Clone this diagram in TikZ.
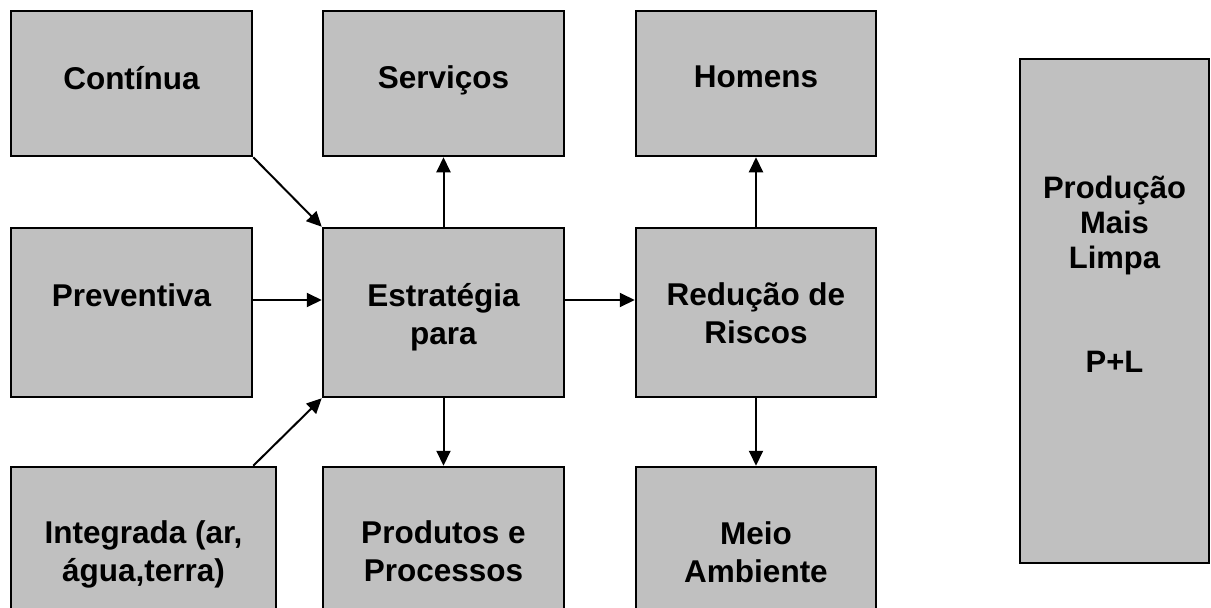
\documentclass[tikz,border=0pt]{standalone}
\usepackage{fontspec}
\setmainfont{Liberation Sans}
\usetikzlibrary{calc,arrows.meta}
\definecolor{boxgray}{RGB}{192,192,192}

\begin{document}
\begin{tikzpicture}[x=1pt,y=-1pt,
  caixa/.style={draw=black,line width=2.5pt,fill=boxgray,inner sep=0pt},
  texto/.style={anchor=north,inner sep=0pt,align=center,
    font=\bfseries\fontsize{31.5}{38}\selectfont},
  seta/.style={line width=2pt,-{Triangle[length=15pt,width=14pt]}}]
\useasboundingbox (0,0) rectangle (1211,608);
\clip (0,0) rectangle (1211,608);

\node[caixa,minimum width=241pt,minimum height=145pt] (cont) at (131.5,83.5) {};
\node[caixa,minimum width=241pt,minimum height=145pt] (serv) at (443.5,83.5) {};
\node[caixa,minimum width=240pt,minimum height=145pt] (hom) at (756,83.5) {};

\node[caixa,minimum width=241pt,minimum height=169pt] (prev) at (131.5,312.5) {};
\node[caixa,minimum width=241pt,minimum height=169pt] (estr) at (443.5,312.5) {};
\node[caixa,minimum width=240pt,minimum height=169pt] (red) at (756,312.5) {};

\node[caixa,minimum width=265pt,minimum height=172pt] (integ) at (143.5,553) {};
\node[caixa,minimum width=241pt,minimum height=172pt] (prod) at (443.5,553) {};
\node[caixa,minimum width=240pt,minimum height=172pt] (meio) at (756,553) {};

\node[caixa,minimum width=189pt,minimum height=504pt] (pml) at (1114.5,311) {};

\node[texto] (contt) at ([yshift=-56pt]cont.north) {Contínua};
\node[texto] (servt) at ([yshift=-56pt]serv.north) {Serviços};
\node[texto] (homt) at ([yshift=-56pt]hom.north) {Homens};
\node[texto] (prevt) at ([yshift=-57pt]prev.north) {Preventiva};
\node[texto] (estrt) at ([yshift=-56pt]estr.north) {Estratégia\\para};
\node[texto] (redt) at ([yshift=-56pt]red.north) {Redução de\\Riscos};
\node[texto] (integt) at ([yshift=-55pt]integ.north) {Integrada (ar,\\água,terra)};
\node[texto] (prodt) at ([yshift=-55pt]prod.north) {Produtos e\\Processos};
\node[texto] (meiot) at ([yshift=-56pt]meio.north) {Meio\\Ambiente};
\node[texto,font=\bfseries\fontsize{31}{35}\selectfont] (pmlt) at ([yshift=-118pt]pml.north)
  {Produção\\Mais\\Limpa\\[69pt]P+L};

\draw[seta] (cont.south east) -- (estr.north west);
\draw[seta] ($(prev.east)+(0,-12.5)$) -- ($(estr.west)+(0,-12.5)$);
\draw[seta] (integ.north -| prev.east) -- (estr.south west);
\draw[seta] ($(estr.east)+(0,-12.5)$) -- ($(red.west)+(0,-12.5)$);
\foreach \a/\b in {estr/serv,estr/prod,red/hom,red/meio}
  \draw[seta] (\a) -- (\b);

\end{tikzpicture}
\end{document}
